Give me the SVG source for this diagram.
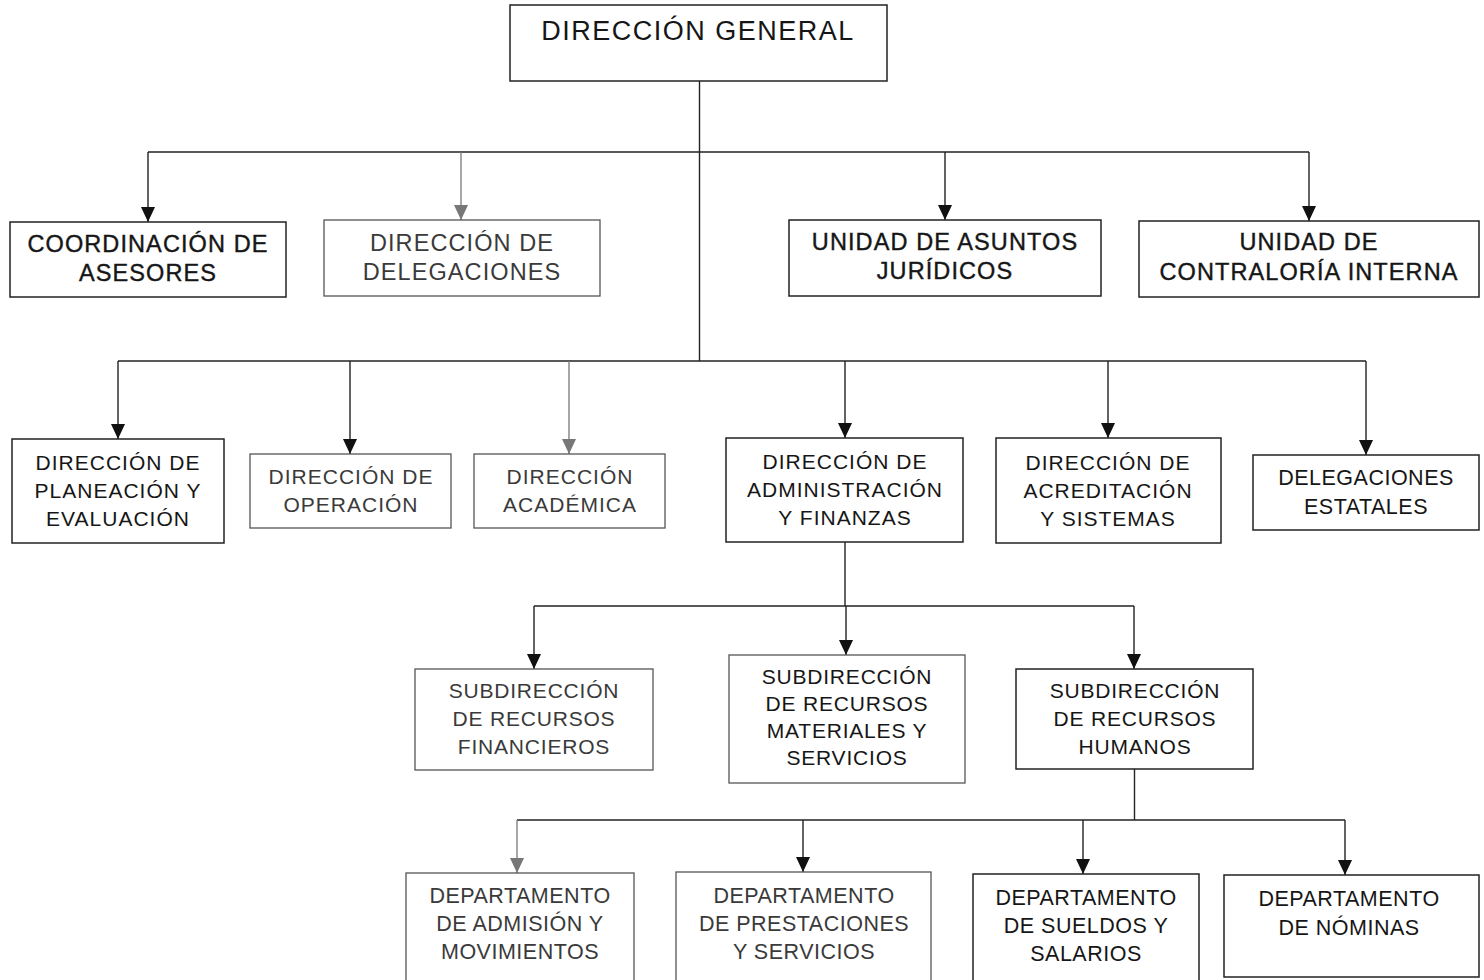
<svg xmlns="http://www.w3.org/2000/svg" width="1484" height="980" viewBox="0 0 1484 980">
<style>
.bx{fill:#fff;stroke:#222;stroke-width:1.5}
.bl{fill:#fff;stroke:#555;stroke-width:1.3}
text{font-family:"Liberation Sans",Arial,sans-serif;font-size:23.5px;letter-spacing:1.1px;text-anchor:middle;fill:#161616}
.r2{font-size:21px;letter-spacing:1px}
.r3{font-size:21px;letter-spacing:0.8px}
.r4{font-size:21.5px;letter-spacing:0.5px}
.lt{fill:#3a3a3a}
.dk{stroke:#161616;stroke-width:0.4}
.ttl{font-size:27px;letter-spacing:1.5px}
.c{fill:none;stroke:#222;stroke-width:1.4}
.cg{fill:none;stroke:#777;stroke-width:1.3}
</style>
<defs>
<marker id="ah" viewBox="0 0 15 14" refX="15" refY="7" markerWidth="15" markerHeight="14" markerUnits="userSpaceOnUse" orient="auto"><path d="M0,0 L15,7 L0,14 z" fill="#111"/></marker>
<marker id="ahg" viewBox="0 0 15 14" refX="15" refY="7" markerWidth="15" markerHeight="14" markerUnits="userSpaceOnUse" orient="auto"><path d="M0,0 L15,7 L0,14 z" fill="#777"/></marker>
</defs>
<rect width="1484" height="980" fill="#fff"/>
<g id="connectors">
<path class="c" d="M699.5,81 V361"/>
<path class="c" d="M148,152 H1309"/>
<path class="c" d="M148,152 V222" marker-end="url(#ah)"/>
<path class="cg" d="M461,152 V220" marker-end="url(#ahg)"/>
<path class="c" d="M945,152 V220" marker-end="url(#ah)"/>
<path class="c" d="M1309,152 V221" marker-end="url(#ah)"/>
<path class="c" d="M118,361 H1366"/>
<path class="c" d="M118,361 V439" marker-end="url(#ah)"/>
<path class="c" d="M350,361 V454" marker-end="url(#ah)"/>
<path class="cg" d="M569,361 V454" marker-end="url(#ahg)"/>
<path class="c" d="M845,361 V438" marker-end="url(#ah)"/>
<path class="c" d="M1108,361 V438" marker-end="url(#ah)"/>
<path class="c" d="M1366,361 V455" marker-end="url(#ah)"/>
<path class="c" d="M845,542 V606"/>
<path class="c" d="M534,606 H1134"/>
<path class="c" d="M534,606 V669" marker-end="url(#ah)"/>
<path class="c" d="M846,606 V655" marker-end="url(#ah)"/>
<path class="c" d="M1134,606 V669" marker-end="url(#ah)"/>
<path class="c" d="M1134.5,769 V820"/>
<path class="c" d="M517,820 H1345"/>
<path class="cg" d="M517,820 V873" marker-end="url(#ahg)"/>
<path class="c" d="M803,820 V872" marker-end="url(#ah)"/>
<path class="c" d="M1083,820 V874" marker-end="url(#ah)"/>
<path class="c" d="M1345,820 V875" marker-end="url(#ah)"/>
</g>
<g id="n-general"><rect class="bx" x="510" y="5" width="377" height="76"/><text class="ttl" x="698" y="40">DIRECCIÓN GENERAL</text></g>
<g id="n-asesores"><rect class="bx" x="10" y="222" width="276" height="75"/><text class="dk" x="148" y="252">COORDINACIÓN DE</text><text class="dk" x="148" y="281">ASESORES</text></g>
<g id="n-delegaciones"><rect class="bl" x="324" y="220" width="276" height="76"/><text class="lt" x="462" y="251">DIRECCIÓN DE</text><text class="lt" x="462" y="280">DELEGACIONES</text></g>
<g id="n-juridicos"><rect class="bx" x="789" y="220" width="312" height="76"/><text class="dk" x="945" y="250">UNIDAD DE ASUNTOS</text><text class="dk" x="945" y="279">JURÍDICOS</text></g>
<g id="n-contraloria"><rect class="bx" x="1139" y="221" width="340" height="76"/><text class="dk" x="1309" y="250">UNIDAD DE</text><text class="dk" x="1309" y="280">CONTRALORÍA INTERNA</text></g>
<g id="n-planeacion" class="r2"><rect class="bx" x="12" y="439" width="212" height="104"/><text class="r2" x="118" y="470">DIRECCIÓN DE</text><text class="r2" x="118" y="498">PLANEACIÓN Y</text><text class="r2" x="118" y="526">EVALUACIÓN</text></g>
<g id="n-operacion"><rect class="bl" x="250" y="454" width="201" height="74"/><text class="r2 lt" x="351" y="484">DIRECCIÓN DE</text><text class="r2 lt" x="351" y="512">OPERACIÓN</text></g>
<g id="n-academica"><rect class="bl" x="474" y="454" width="191" height="74"/><text class="r2 lt" x="570" y="484">DIRECCIÓN</text><text class="r2 lt" x="570" y="512">ACADÉMICA</text></g>
<g id="n-administracion"><rect class="bx" x="726" y="438" width="237" height="104"/><text class="r2" x="845" y="469">DIRECCIÓN DE</text><text class="r2" x="845" y="497">ADMINISTRACIÓN</text><text class="r2" x="845" y="525">Y FINANZAS</text></g>
<g id="n-acreditacion"><rect class="bx" x="996" y="438" width="225" height="105"/><text class="r2" x="1108" y="470">DIRECCIÓN DE</text><text class="r2" x="1108" y="498">ACREDITACIÓN</text><text class="r2" x="1108" y="526">Y SISTEMAS</text></g>
<g id="n-estatales"><rect class="bx" x="1253" y="455" width="226" height="75"/><text class="r4" x="1366" y="485">DELEGACIONES</text><text class="r4" x="1366" y="514">ESTATALES</text></g>
<g id="n-financieros"><rect class="bl" x="415" y="669" width="238" height="101"/><text class="r3 lt" x="534" y="698">SUBDIRECCIÓN</text><text class="r3 lt" x="534" y="726">DE RECURSOS</text><text class="r3 lt" x="534" y="754">FINANCIEROS</text></g>
<g id="n-materiales"><rect class="bl" x="729" y="655" width="236" height="128"/><text class="r3" x="847" y="684">SUBDIRECCIÓN</text><text class="r3" x="847" y="711">DE RECURSOS</text><text class="r3" x="847" y="738">MATERIALES Y</text><text class="r3" x="847" y="765">SERVICIOS</text></g>
<g id="n-humanos"><rect class="bx" x="1016" y="669" width="237" height="100"/><text class="r3" x="1135" y="698">SUBDIRECCIÓN</text><text class="r3" x="1135" y="726">DE RECURSOS</text><text class="r3" x="1135" y="754">HUMANOS</text></g>
<g id="n-admision"><rect class="bl" x="406" y="873" width="228" height="112"/><text class="r4 lt" x="520" y="903">DEPARTAMENTO</text><text class="r4 lt" x="520" y="931">DE ADMISIÓN Y</text><text class="r4 lt" x="520" y="959">MOVIMIENTOS</text></g>
<g id="n-prestaciones"><rect class="bl" x="676" y="872" width="255" height="113"/><text class="r4 lt" x="804" y="903">DEPARTAMENTO</text><text class="r4 lt" x="804" y="931">DE PRESTACIONES</text><text class="r4 lt" x="804" y="959">Y SERVICIOS</text></g>
<g id="n-sueldos"><rect class="bx" x="973" y="874" width="226" height="111"/><text class="r4" x="1086" y="905">DEPARTAMENTO</text><text class="r4" x="1086" y="933">DE SUELDOS Y</text><text class="r4" x="1086" y="961">SALARIOS</text></g>
<g id="n-nominas"><rect class="bx" x="1224" y="875" width="255" height="102"/><text class="r4" x="1349" y="906">DEPARTAMENTO</text><text class="r4" x="1349" y="935">DE NÓMINAS</text></g>
</svg>
